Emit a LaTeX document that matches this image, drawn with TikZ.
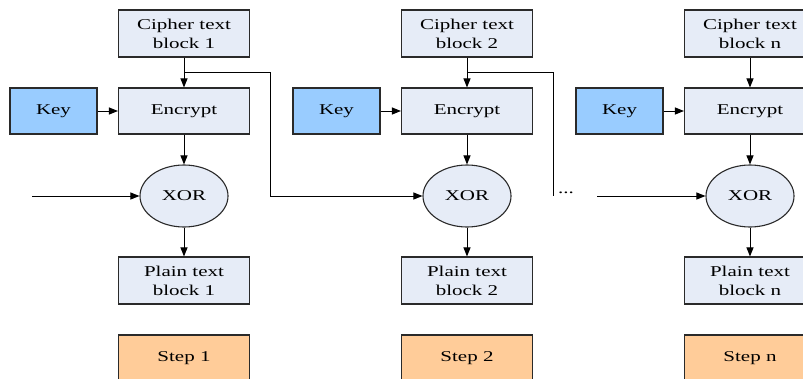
\documentclass[tikz,border=0pt]{standalone}
\usepackage{fontspec}
\setmainfont{Liberation Serif}[FakeStretch=1.4]
\usetikzlibrary{arrows.meta,shapes.geometric}
\definecolor{boxfill}{HTML}{E6ECF7}
\definecolor{keyfill}{HTML}{99CCFF}
\definecolor{stepfill}{HTML}{FFCC99}
\definecolor{edge}{HTML}{2A2A2A}
\tikzset{
  txt/.style={font=\fontsize{15}{19}\selectfont, text=black},
  blk/.style={txt, draw=edge, line width=1.1pt, fill=boxfill, minimum width=131pt, minimum height=47pt, inner sep=0pt, align=center},
  keybox/.style={blk, fill=keyfill, minimum width=87pt, minimum height=46pt},
  stepbox/.style={blk, fill=stepfill},
  xorshape/.style={txt, ellipse, draw=edge, line width=1.1pt, fill=boxfill, minimum width=88pt, minimum height=62pt, inner sep=0pt},
  arr/.style={draw=black, line width=1pt, -{Triangle[length=9pt,width=7pt]}},
  ln/.style={draw=black, line width=1pt}
}
\begin{document}
\begin{tikzpicture}[x=1pt,y=-1pt]
\useasboundingbox (0,0) rectangle (803,378);
\clip (0,0) rectangle (803,378);
\foreach \i/\x/\lab in {1/184/1, 2/467/2, 3/750/n}{
  \node[blk] (cipher\i) at (\x,33.5) {Cipher text\\block \lab};
  \node[blk, minimum height=46pt] (enc\i) at (\x,111) {Encrypt};
  \node[keybox] (key\i) at (\x-130.5,111) {Key};
  \node[xorshape] (xor\i) at (\x,196) {XOR};
  \node[blk] (plain\i) at (\x,280.5) {Plain text\\block \lab};
  \node[stepbox] (step\i) at (\x,358.5) {Step \lab};
  \coordinate (b\i) at (\x,72);
  \draw[arr] (cipher\i) -- (enc\i);
  \draw[arr] (key\i) -- (enc\i);
  \draw[arr] (enc\i) -- (xor\i);
  \draw[arr] (xor\i) -- (plain\i);
}
\coordinate (s1) at (32,196);
\coordinate (k1) at (270,196);
\coordinate (k2) at (553,196);
\coordinate (s3) at (597,196);
\node[txt, inner sep=0pt] (dots) at (566,193) {...};
\draw[arr] (s1) -- (xor1);
\draw[arr] (b1) -| (k1) -- (xor2);
\draw[ln] (b2) -| (k2);
\draw[arr] (s3) -- (xor3);
\end{tikzpicture}
\end{document}
